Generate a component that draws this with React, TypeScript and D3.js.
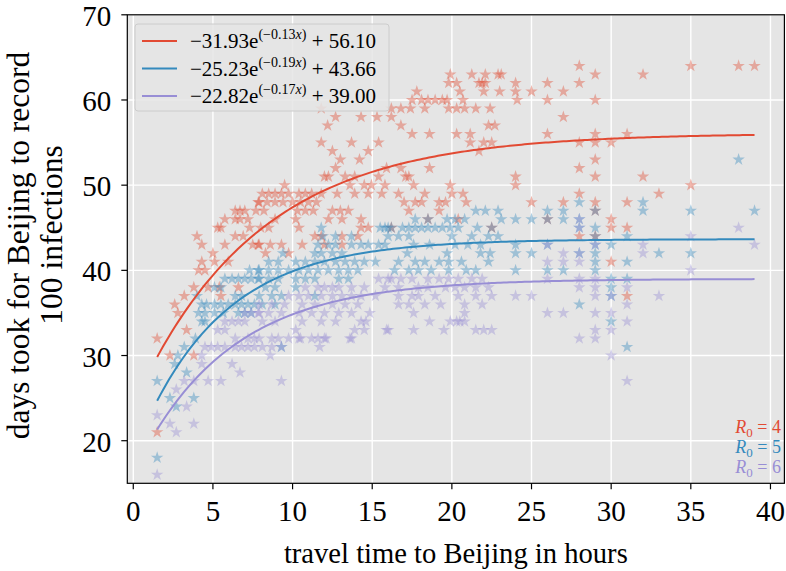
import React from "react";
import * as d3 from "d3";

type P = [number, number];

const xTicks = [0, 5, 10, 15, 20, 25, 30, 35, 40];
const yTicks = [20, 30, 40, 50, 60, 70];

const fits = [
  { a: -31.93, b: -0.13, c: 56.1, A: "\u221231.93", B: "\u22120.13", C: "56.10", color: "#E24A33", r0: "4" },
  { a: -25.23, b: -0.19, c: 43.66, A: "\u221225.23", B: "\u22120.19", C: "43.66", color: "#348ABD", r0: "5" },
  { a: -22.82, b: -0.17, c: 39.0, A: "\u221222.82", B: "\u22120.17", C: "39.00", color: "#988ED5", r0: "6" },
];

const redPts: P[] = [
  [1.5,32],[1.5,21],[2.3,30],[2.6,36],[2.8,35],[3.2,37],[3.35,33],[3.8,38],[3.8,30],[4.0,44],[4.3,43],[4.3,41],[4.1,40],[4.5,40],[4.7,38],[5.0,42],[5.1,41],[5.3,45],[5.5,45],[5.75,46],[5.75,43],[5.96,41],[6.4,47],[6.7,47],[7.0,47],[6.4,46],[6.7,46],[7.2,46],[6.4,44],[6.9,44],[7.3,45],[7.85,48],[7.5,43],[7.85,43],[5.4,38],[5.5,37],[6.6,38],
  [11.8,59],[12.7,58],[14.3,58],[15.3,58],[12.2,57],[11.8,55],[13.7,55],[15.4,55],[12.5,54],[14.75,54],[13.0,53],[14.2,53],[12.7,52],[12.0,51],[12.25,51],[13.3,51],[13.9,51],[15.4,51],[9.5,50],[13.6,50],[14.5,50],[14.95,50],[15.8,50],
  [8.1,49],[8.5,49],[8.9,49],[9.3,49],[9.75,49],[10.4,49],[10.8,49],[11.2,49],[11.8,49],[12.8,49],[13.9,49],[14.75,49],[15.6,49],
  [7.9,48],[8.4,48],[8.9,48],[9.4,48],[10.0,48],[10.5,48],[11.0,48],[11.5,48],
  [7.7,47],[8.2,47],[10.3,47],[10.8,47],[11.3,47],[12.5,47],[13.0,47],[13.5,47],
  [8.9,46],[10.2,46],[12.25,46],[13.1,46],[14.3,46],
  [8.0,45],[8.5,45],[10.4,45],[14.3,45],[14.75,45],
  [11.4,44],[11.8,44],[13.1,44],[14.1,44],
  [7.9,43],[8.6,43],[9.3,43],[10.6,43],[12.0,43],[13.1,43],
  [8.3,42],[9.75,42],
  [19.9,63],[21.25,63],[22.1,63],[22.9,63],[23.1,63],
  [19.8,62],[20.3,62],[21.7,62],[21.9,62],[22.1,62],[24.0,62],
  [17.8,61],[20.5,61],[22.0,61],[23.0,61],[24.0,61],
  [17.5,60],[18.1,60],[18.5,60],[18.95,60],[19.4,60],[19.7,60],[20.7,60],[24.1,60],
  [16.2,59],[16.8,59],[17.4,59],[18.3,59],[19.8,59],[20.3,59],[20.8,59],[21.5,59],[22.4,59],
  [16.2,58],[16.8,57],[22.3,57],[22.7,57],
  [17.5,56],[18.6,56],[20.3,56],[21.15,56],
  [21.15,55],[22.0,55],[22.5,55],[21.7,54],
  [15.9,52],[16.8,52],[18.6,52],
  [17.1,51],[17.3,51],[24.0,51],
  [17.6,50],[19.9,50],[24.0,50],
  [16.65,49],[18.3,49],[20.0,49],[20.7,49],
  [17.0,48],[17.7,48],[18.1,48],[19.2,48],[19.6,48],[20.9,48],
  [17.3,47],[19.2,47],[18.5,46],[20.4,46],[16.2,45],[22.5,45],
  [25,61],[25,48],[26,62],[26,60],[26,56],[26,46],[27,61],[27,58],[27,48],[28,64],[28,62],[28,55],[28,52],[28,49],[28,44],
  [29,63],[29,60],[29,56],[29,55],[29,53],[29,51],[29,48],[29,47],[29,44],[30,55],[30,46],[30,45],[30,41],
  [31,56],[31,48],[31,45],[31,37],[32,63],[32,51],[33,49],[35,64],[35,50],[38,64],[39,64],
];

const bluePts: P[] = [
  [1.5,27],[1.5,18],[2.3,25],[2.6,29],[2.7,24],[3.35,28],[2.8,30],[3.2,31],[3.8,25],[3.9,32],[4.1,35],[4.5,35],[4.3,36],[4.6,36],[4.3,34],[4.5,34],[4.0,37],[5.1,36],[5.5,36],[5.96,36],[5.1,35],[5.65,35],[5.75,39],[6.2,39],[6.6,39],[7.0,39],[7.4,39],[7.85,39],[6.4,37],[6.8,37],[6.4,36],[6.8,36],[7.2,36],[7.6,36],[6.6,35],[7.0,35],[7.4,35],[7.3,40],[7.85,40],[5.1,38],[5.5,38],
  [11.8,45],[15.5,45],[16.0,45],
  [11.9,44],[12.7,44],[13.7,44],
  [11.6,43],[12.25,43],[12.7,43],[13.7,43],[14.3,43],[14.75,43],[15.4,43],[15.8,43],
  [9.4,42],[11.4,42],[11.8,42],[12.5,42],[13.1,42],
  [8.5,41],[9.1,41],[10.2,41],[10.8,41],[11.4,41],[12.0,41],[12.7,41],[13.3,41],[13.9,41],[14.5,41],[15.2,41],
  [7.9,40],[8.5,40],[9.1,40],[9.75,40],[10.4,40],[11.0,40],[11.6,40],[12.25,40],[12.9,40],[13.5,40],[14.1,40],
  [7.9,39],[8.5,39],[9.1,39],[10.2,39],[10.8,39],[11.4,39],[12.9,39],[13.5,39],
  [8.3,38],[8.9,38],[10.2,38],
  [7.9,37],[8.7,37],[9.3,37],[11.4,37],
  [8.1,36],[8.9,36],[9.3,31],
  [21.5,47],[22.1,47],[22.9,47],
  [17.7,46],[18.5,46],[19.7,46],[20.2,46],[20.8,46],[23.1,46],[24.0,46],
  [15.8,45],[16.2,45],[16.9,45],[17.3,45],[17.7,45],[18.1,45],[18.5,45],[18.95,45],[19.4,45],[19.9,45],[20.4,45],[21.6,45],[22.5,45],
  [16.0,44],[16.65,44],[17.3,44],[20.0,44],[21.25,44],[22.3,44],[22.9,44],
  [17.6,43],[18.6,43],[20.2,43],[21.0,43],[21.8,43],[24.0,43],
  [17.2,42],[19.7,42],[21.8,42],[22.4,42],[24.0,42],
  [16.65,41],[17.7,41],[18.3,41],[19.2,41],[19.8,41],[20.6,41],[22.3,41],
  [16.4,40],[17.3,40],[17.9,40],[18.7,40],[19.8,40],[20.9,40],[21.5,40],[24.0,40],
  [25,46],[25,42],[26,47],[26,46],[26,43],[26,40],[27,47],[27,46],[27,40],[28,48],[28,46],[28,45],[28,42],[28,36],
  [29,47],[29,45],[29,44],[29,43],[29,42],[29,41],[29,40],[30,43],[30,39],[30,38],[30,37],[30,34],
  [31,44],[31,41],[31,39],[31,31],[32,48],[32,47],[33,42],[35,47],[35,42],[38,53],[39,47],
];

const purplePts: P[] = [
  [1.5,23],[1.5,16],[2.3,22],[2.7,21],[2.7,26],[3.35,24],[3.2,27],[3.8,22],[3.8,27],[4.3,30],[4.3,29],[4.7,27],[5.5,27],[4.5,31],[4.9,31],[5.3,31],[5.75,31],[5.3,33],[5.75,33],[5.75,34],[6.2,34],[6.6,34],[7.0,34],[6.2,29],[6.7,28],[6.4,31],[6.8,31],[7.2,31],[7.6,31],[6.4,32],[7.2,32],[7.6,32],[7.0,35],[7.4,35],[7.85,35],
  [15.4,39],[16.0,39],
  [10.8,38],[11.6,38],[12.0,38],[12.5,38],[12.9,38],[13.7,38],[14.5,38],
  [9.75,37],[10.4,37],[11.0,37],[11.8,37],[12.5,37],[13.1,37],[13.7,37],[14.3,37],[15.2,37],
  [7.9,36],[8.7,36],[9.5,36],[10.6,36],[11.4,36],[12.5,36],[13.3,36],[14.1,36],
  [7.9,35],[8.5,35],[9.3,35],[10.4,35],[11.2,35],[12.0,35],[12.9,35],[13.7,35],[14.85,35],
  [8.1,34],[8.9,34],[10.6,34],[11.8,34],[12.7,34],[14.3,34],
  [10.2,33],[14.5,33],[13.9,33],[15.9,33],
  [7.9,32],[8.7,32],[9.1,32],[9.75,32],[10.4,32],[11.2,32],[11.6,32],[12.0,32],[13.7,32],
  [8.1,31],[8.7,31],[9.3,31],[11.7,31],[8.6,30],[9.3,27],
  [10.5,32],[12.1,32],[13.6,32],[14.6,34],[17.6,33],[19.9,34],[20.5,34],[22.0,33],
  [16.2,39],[16.8,39],[17.5,39],[18.5,39],[19.2,39],[19.8,39],[20.4,39],[21.25,39],[21.9,39],
  [15.8,38],[16.65,38],[17.9,38],[18.5,38],[19.6,38],[20.2,38],[20.8,38],[21.5,38],[22.3,38],
  [16.65,37],[17.5,37],[17.9,37],[18.95,37],[20.4,37],[21.5,37],[22.5,37],[24.0,37],
  [16.65,36],[17.3,36],[18.3,36],[19.3,36],[20.8,36],[21.9,36],
  [17.6,35],[20.8,35],[18.6,34],[20.3,34],[20.8,34],
  [16.0,33],[19.5,33],[21.5,33],[22.5,33],
  [25,37],[26,43],[26,41],[26,39],[26,35],[27,42],[27,41],[27,35],[28,46],[28,45],[28,42],[28,41],[28,39],[28,38],[28,32],
  [29,43],[29,39],[29,38],[29,37],[29,35],[29,33],[29,32],[30,37],[30,35],[30,33],[30,30],
  [31,38],[31,36],[31,34],[31,27],[32,43],[32,42],[33,37],[35,44],[35,40],[38,45],[39,43],
];

const seriesPts = [redPts, bluePts, purplePts];
const curveX = d3.range(0, 201).map((i) => 1.5 + (i * (39 - 1.5)) / 200);

const W = 786, H = 571;
const L = 127.3, R = 784.4, T = 14.8, B = 483.3;
const FONT = "'Liberation Serif', 'DejaVu Serif', serif";

export default function App() {
  const x = d3.scaleLinear().domain([-0.375, 40.875]).range([L, R]);
  const y = d3.scaleLinear().domain([15, 70]).range([B, T]);
  const star = d3.symbol(d3.symbolStar, 48)()!;
  const line = d3.line<[number, number]>().x((d) => x(d[0])).y((d) => y(d[1]));

  return (
    <div style={{ position: "absolute", left: 0, top: 0 }}>
      <svg width={W} height={H} style={{ display: "block", fontFamily: FONT }}>
        <rect x={0} y={0} width={W} height={H} fill="#ffffff" />
        <rect x={L} y={T} width={R - L} height={B - T} fill="#e5e5e5" />
        {xTicks.map((t) => (
          <line key={"gx" + t} x1={x(t)} x2={x(t)} y1={T} y2={B} stroke="#ffffff" strokeWidth={1.4} />
        ))}
        {yTicks.map((t) => (
          <line key={"gy" + t} x1={L} x2={R} y1={y(t)} y2={y(t)} stroke="#ffffff" strokeWidth={1.4} />
        ))}
        <defs>
          <clipPath id="clip">
            <rect x={L} y={T} width={R - L} height={B - T} />
          </clipPath>
        </defs>
        <g clipPath="url(#clip)">
          {seriesPts.map((pts, si) =>
            pts.map((p, i) => (
              <path
                key={si + "-" + i}
                d={star}
                transform={`translate(${x(p[0])},${y(p[1])})`}
                fill={fits[si].color}
                fillOpacity={0.4}
              />
            ))
          )}
          {fits.map((f, i) => (
            <path
              key={"fit" + i}
              d={line(curveX.map((v) => [v, f.a * Math.exp(f.b * v) + f.c]))!}
              fill="none"
              stroke={f.color}
              strokeWidth={2}
            />
          ))}
        </g>
        <rect x={L} y={T} width={R - L} height={B - T} fill="none" stroke="#000" strokeWidth={1.2} />
        {xTicks.map((t) => (
          <g key={"tx" + t}>
            <line x1={x(t)} x2={x(t)} y1={B} y2={B + 6} stroke="#000" strokeWidth={1.2} />
            <text x={x(t)} y={B + 37.5} fontSize={29} textAnchor="middle" fill="#000">{t}</text>
          </g>
        ))}
        {yTicks.map((t) => (
          <g key={"ty" + t}>
            <line x1={L - 6} x2={L} y1={y(t)} y2={y(t)} stroke="#000" strokeWidth={1.2} />
            <text x={L - 16} y={y(t) + 11} fontSize={29} textAnchor="end" fill="#000">{t}</text>
          </g>
        ))}
        <text x={(L + R) / 2} y={563} fontSize={28.6} textAnchor="middle" fill="#000">
          travel time to Beijing in hours
        </text>
        <text transform={`translate(29,245.5) rotate(-90)`} fontSize={31.5} textAnchor="middle" fill="#000">
          days took for Beijing to record
        </text>
        <text transform={`translate(62,235) rotate(-90)`} fontSize={31.5} textAnchor="middle" fill="#000">
          100 infections
        </text>
        <g>
          <rect x={135} y={24} width={254} height={87} rx={3} fill="#e5e5e5" fillOpacity={0.85} stroke="#cccccc" strokeWidth={1} />
          {fits.map((f, i) => {
            const ly = 41 + i * 27.5;
            return (
              <g key={"lg" + i}>
                <line x1={142} x2={177} y1={ly} y2={ly} stroke={f.color} strokeWidth={2} />
                <text x={190} y={ly + 7} fontSize={21} fill="#000">
                  {f.A}e
                  <tspan fontSize={14} dy={-9}>
                    ({f.B}<tspan fontStyle="italic">x</tspan>)
                  </tspan>
                  <tspan dy={9}> + {f.C}</tspan>
                </text>
              </g>
            );
          })}
        </g>
        {fits.map((f, i) => (
          <text key={"r0" + i} x={781} y={433 + i * 20} fontSize={18} textAnchor="end" fill={f.color}>
            <tspan fontStyle="italic">R</tspan>
            <tspan fontSize={13} dy={4}>0</tspan>
            <tspan dy={-4}> = {f.r0}</tspan>
          </text>
        ))}
      </svg>
    </div>
  );
}
